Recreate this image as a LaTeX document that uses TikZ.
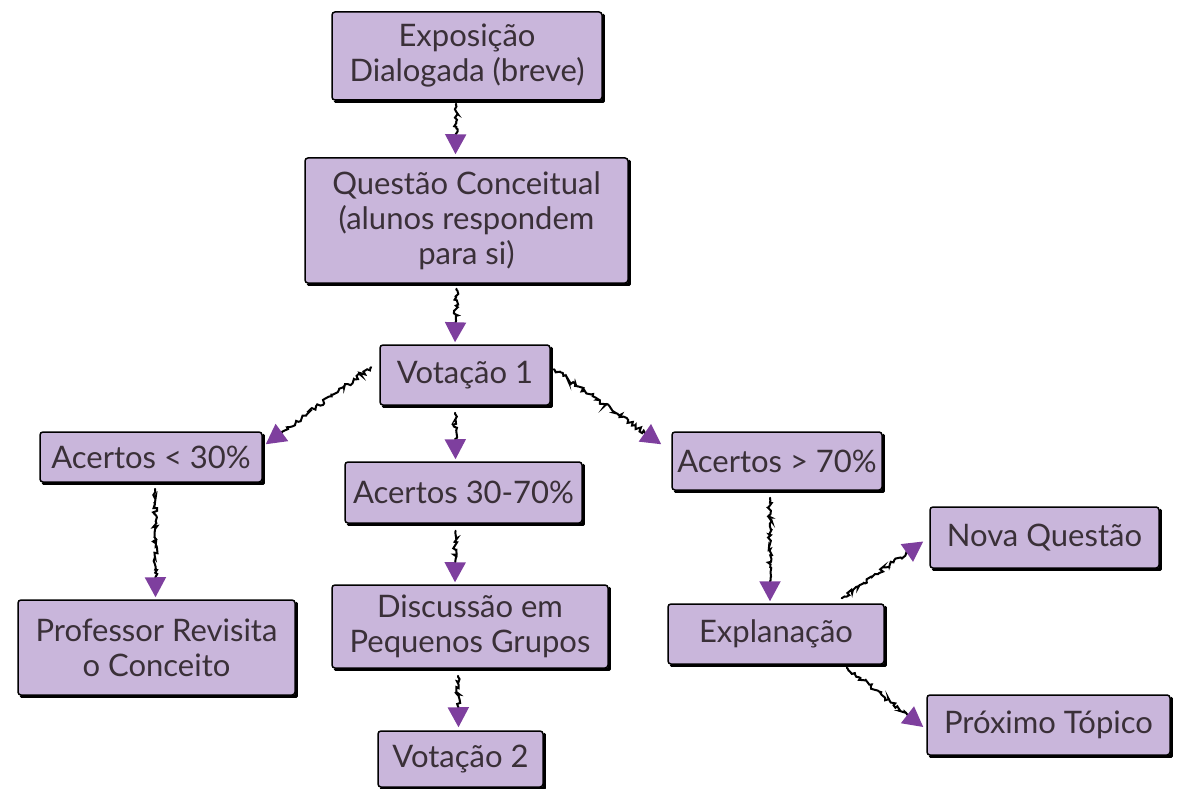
\documentclass[tikz,border=0pt]{standalone}
\usepackage{fontspec}
\setmainfont{Lato}
\usetikzlibrary{arrows.meta,decorations.pathmorphing,calc}
\definecolor{lav}{HTML}{C9B6DB}
\definecolor{arr}{HTML}{7E3F9E}
\definecolor{txt}{HTML}{3A3038}
\begin{document}
\begin{tikzpicture}[x=1pt,y=-1pt,
  box/.style={draw=black, line width=1.5pt, fill=lav, rounded corners=3pt, align=center,
    font=\fontsize{31}{35}\selectfont, text=txt, inner sep=2pt},
  wig/.style={decorate, decoration={random steps, segment length=2pt, amplitude=2.2pt, post length=20pt, pre length=1pt},
    line width=2pt, line cap=round, -{Triangle[length=20pt,width=21pt,color=arr]}},
  edge/.style={line width=3pt, line cap=round, line join=round}]
\pgfmathsetseed{7}
\useasboundingbox (0,0) rectangle (1181,789);
\node[box, minimum width=270, minimum height=88] (expo) at (467,56) {Exposição\\Dialogada (breve)};
\node[box, minimum width=323, minimum height=125] (qc) at (466.5,220.5) {Questão Conceitual\\(alunos respondem\\para si)};
\node[box, minimum width=170, minimum height=60] (v1) at (465,375) {Votação 1};
\node[box, minimum width=222, minimum height=50] (a1) at (151,457) {Acertos < 30\%};
\node[box, minimum width=237, minimum height=61] (a30) at (463.5,492.5) {Acertos 30-70\%};
\node[box, minimum width=210, minimum height=58] (a70) at (777,461) {Acertos > 70\%};
\node[box, minimum width=277, minimum height=95] (pr) at (156.5,647.5) {Professor Revisita\\o Conceito};
\node[box, minimum width=276, minimum height=83] (ds) at (470,626.5) {Discussão em\\Pequenos Grupos};
\node[box, minimum width=165, minimum height=56] (v2) at (460.5,759) {Votação 2};
\node[box, minimum width=216, minimum height=60] (expl) at (776,634) {Explanação};
\node[box, minimum width=229, minimum height=61] (nq) at (1044.5,537.5) {Nova Questão};
\node[box, minimum width=243, minimum height=60] (pt) at (1048.5,725) {Próximo Tópico};
\foreach \n in {expo,qc,v1,a1,a30,a70,pr,ds,v2,expl,nq,pt}
  \draw[edge] ([xshift=0.8pt,yshift=-4pt]\n.north east) -- ([xshift=0.8pt,yshift=-0.8pt]\n.south east) -- ([xshift=4pt,yshift=-0.8pt]\n.south west);
\draw[wig] ([xshift=-11pt,yshift=-3pt]expo.south) -- ([xshift=-11pt,yshift=3pt]qc.north);
\draw[wig] ([xshift=-10pt,yshift=-5pt]qc.south) -- ([xshift=-10pt,yshift=2pt]v1.north);
\draw[wig] ([xshift=-8pt,yshift=-23pt]v1.north west) -- ([xshift=3pt,yshift=-13pt]a1.north east);
\draw[wig] ([xshift=-10pt,yshift=-7pt]v1.south) -- ([xshift=-8pt,yshift=2pt]a30.north);
\draw[wig] ([xshift=3pt,yshift=-25pt]v1.north east) -- ([xshift=-10pt,yshift=-13pt]a70.north west);
\draw[wig] ([xshift=4pt,yshift=-6pt]a1.south) -- ([xshift=-1pt,yshift=2pt]pr.north);
\draw[wig] ([xshift=-8pt,yshift=-7pt]a30.south) -- ([xshift=-15pt,yshift=2pt]ds.north);
\draw[wig] ([xshift=-12pt,yshift=-7pt]ds.south) -- ([xshift=-2pt,yshift=3pt]v2.north);
\draw[wig] ([xshift=-7pt,yshift=-7pt]a70.south) -- ([xshift=-6pt,yshift=2pt]expl.north);
\draw[wig] ([xshift=-43pt,yshift=5pt]expl.north east) -- ([xshift=-6pt,yshift=-4pt]nq.west);
\draw[wig] ([xshift=-38pt,yshift=-3pt]expl.south east) -- ([xshift=-3pt,yshift=-2pt]pt.west);
\end{tikzpicture}
\end{document}
